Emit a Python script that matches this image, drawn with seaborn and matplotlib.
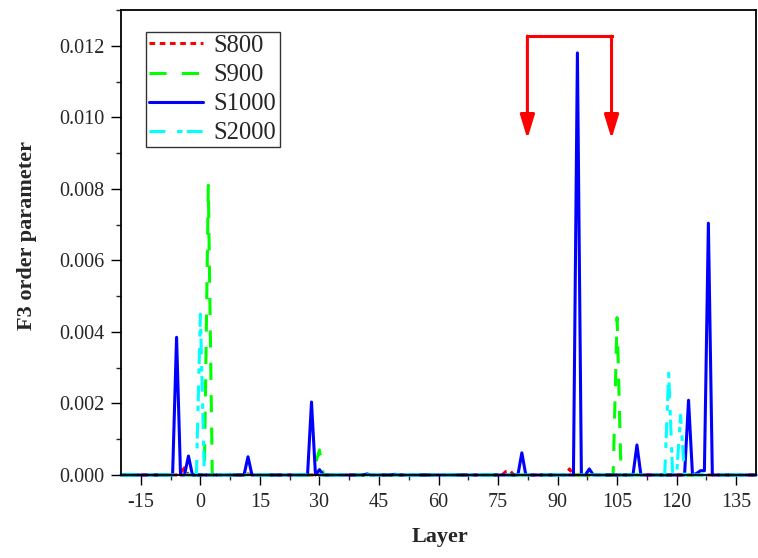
import numpy as np
import pandas as pd
import seaborn as sns
import matplotlib.pyplot as plt

# layer axis used by all four runs
layers = np.arange(-20, 141)

# non-zero entries (layer -> F3), everything else sits at 0
s800_layers = [-5, -4, 12, 77, 78, 93]
s800_vals = [0.00005, 0.0002, 0.00003, 0.0001, 0.00012, 0.00017]

s900_layers = [2, 6, 7, 29, 30, 76, 105]
s900_vals = [0.0081, 0.00005, 0.00004, 0.0003, 0.0007, 0.00015, 0.0044]

s1000_layers = [-6, -3, 12, 28, 30, 42, 49, 81, 95, 98, 110, 123, 125, 126, 127, 128]
s1000_vals = [0.00385, 0.00053, 0.00051, 0.00204, 0.00015, 0.00003, 0.00002,
              0.00062, 0.0118, 0.00017, 0.00084, 0.00209, 0.00004, 0.00012,
              0.00012, 0.00704]

s2000_layers = [0, 118, 121]
s2000_vals = [0.0045, 0.00285, 0.00167]

series_names = ["S800", "S900", "S1000", "S2000"]
series_colors = ["#ff0000", "#00ff00", "#0000ff", "#00ffff"]
series_dashes = [(1.85, 1.5), (5.6, 5.0), "", (5.2, 3.8, 1.8, 1.4)]

y_ticks = [0.000, 0.002, 0.004, 0.006, 0.008, 0.010, 0.012]
x_ticks = [-15, 0, 15, 30, 45, 60, 75, 90, 105, 120, 135]

peaks = {
    "S800": (s800_layers, s800_vals),
    "S900": (s900_layers, s900_vals),
    "S1000": (s1000_layers, s1000_vals),
    "S2000": (s2000_layers, s2000_vals),
}

frames = []
for name in series_names:
    vals = pd.Series(0.0, index=layers)
    lx, ly = peaks[name]
    vals.loc[lx] = ly
    frames.append(pd.DataFrame({"Layer": layers, "F3": vals.values, "run": name}))
df = pd.concat(frames, ignore_index=True)

sns.set_style("ticks")
plt.rcParams["font.family"] = ["Liberation Serif", "DejaVu Serif"]
plt.rcParams["axes.unicode_minus"] = False

fig = plt.figure(figsize=(7.58, 5.58), dpi=100)
ax = fig.add_axes([121 / 758, 1 - 475 / 558, 635 / 758, 465 / 558])

sns.lineplot(
    data=df, x="Layer", y="F3", hue="run", style="run",
    hue_order=series_names, style_order=series_names,
    palette=dict(zip(series_names, series_colors)),
    dashes=dict(zip(series_names, series_dashes)),
    estimator=None, sort=False, linewidth=2.2, ax=ax,
)
for ln in ax.lines:
    ln.set_clip_on(False)

ax.set_xlim(-20, 140)
ax.set_ylim(0, 0.013)
ax.set_xticks(x_ticks)
ax.set_xticks(np.arange(-22.5, 141, 7.5), minor=True)
ax.set_yticks(y_ticks)
ax.set_yticks(np.arange(0.001, 0.0131, 0.002), minor=True)
ax.set_yticklabels([f"{v:.3f}" for v in y_ticks])
ax.set_xlim(-20, 140)

ax.tick_params(axis="both", which="major", direction="out", length=7, width=1,
               labelsize=14.5, pad=5, color="black", top=False, right=False)
ax.tick_params(axis="x", which="major", pad=6)
ax.tick_params(axis="both", which="minor", direction="out", length=3.6, width=1,
               top=False, right=False)
for sp in ax.spines.values():
    sp.set_linewidth(1.3)
    sp.set_color("black")
    sp.set_visible(True)

ax.set_xlabel("Layer", fontsize=16, fontweight="bold")
ax.set_ylabel("F3 order parameter", fontsize=16, fontweight="bold")
ax.xaxis.set_label_coords(0.502, -0.112)
ax.yaxis.set_label_coords(-0.133, 0.514)

# red bracket with arrows over the big S1000 peak
bx0, bx1, btop, btip = 82.4, 103.6, 0.01227, 0.0094
ax.plot([bx0, bx1], [btop, btop], color="red", lw=2.2, solid_capstyle="projecting")
for bx in (bx0, bx1):
    ax.annotate("", xy=(bx, btip), xytext=(bx, btop),
                arrowprops=dict(arrowstyle="-|>,head_length=0.72,head_width=0.22",
                                mutation_scale=20, color="red", lw=2.2,
                                shrinkA=0, shrinkB=0))

handles, labels = ax.get_legend_handles_labels()
leg = ax.legend(handles[-4:], labels[-4:], loc="upper left",
                bbox_to_anchor=(0.039, 0.953), fontsize=17.7, frameon=True,
                fancybox=False, edgecolor="black", handlelength=2.2,
                handletextpad=0.45, labelspacing=0.28, borderpad=0.12,
                borderaxespad=0)
leg.get_frame().set_linewidth(1.0)
for h in leg.get_lines():
    h.set_linewidth(2.2)

fig.savefig("out.png", dpi=100)
